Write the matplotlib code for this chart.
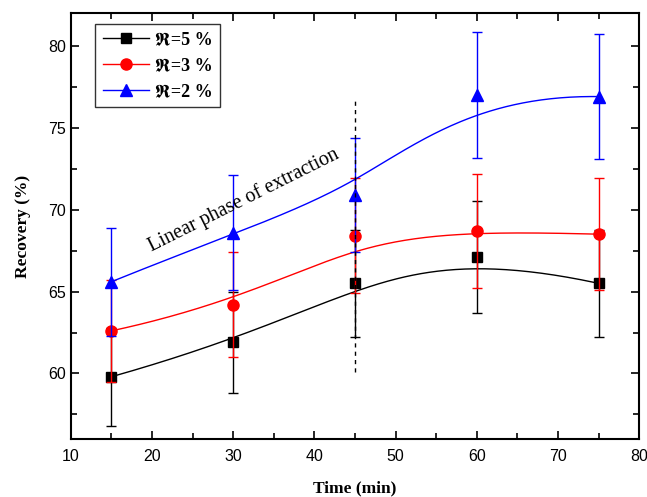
import numpy as np
import matplotlib
matplotlib.use("Agg")
import matplotlib.pyplot as plt
from matplotlib.ticker import MultipleLocator

# time points (min)
time = [15, 30, 45, 60, 75]

# recovery (%) and error for each R value
rec_5 = [59.8, 61.9, 65.5, 67.1, 65.5]
err_5 = [3.0, 3.1, 3.25, 3.4, 3.25]
rec_3 = [62.6, 64.2, 68.4, 68.7, 68.5]
err_3 = [3.1, 3.2, 3.5, 3.5, 3.4]
rec_2 = [65.6, 68.6, 70.9, 77.0, 76.9]
err_2 = [3.3, 3.5, 3.5, 3.85, 3.8]

labels = ["\u211c=5 %", "\u211c=3 %", "\u211c=2 %"]
colors = ["black", "red", "blue"]
markers = ["s", "o", "^"]
msizes = [7, 8, 8.5]


def basis(i, k, t, knots):
    # Cox-de Boor recursion
    if k == 0:
        if knots[i] <= t < knots[i + 1] or (t == knots[-1] and knots[i] < t <= knots[i + 1]):
            return 1.0
        return 0.0
    a = 0.0
    if knots[i + k] != knots[i]:
        a = (t - knots[i]) / (knots[i + k] - knots[i]) * basis(i, k - 1, t, knots)
    b = 0.0
    if knots[i + k + 1] != knots[i + 1]:
        b = (knots[i + k + 1] - t) / (knots[i + k + 1] - knots[i + 1]) * basis(i + 1, k - 1, t, knots)
    return a + b


def bspline(xs, ys, n=200):
    # clamped cubic B-spline, data points used as control points
    m = len(xs)
    inner = list(np.linspace(0, 1, m - 2))
    knots = [0, 0, 0] + inner + [1, 1, 1]
    ts = np.linspace(0, 1, n)
    cx, cy = [], []
    for t in ts:
        w = [basis(i, 3, t, knots) for i in range(m)]
        cx.append(np.dot(w, xs))
        cy.append(np.dot(w, ys))
    return cx, cy


fig = plt.figure(figsize=(6.47, 4.97), dpi=100)
ax = fig.add_axes([0.1095, 0.1167, 0.8785, 0.8571])

for ys, es, c, m, ms, lab in zip([rec_5, rec_3, rec_2], [err_5, err_3, err_2],
                                  colors, markers, msizes, labels):
    ax.errorbar(time, ys, yerr=es, fmt="none", ecolor=c, elinewidth=1,
                capsize=3.5, capthick=1)
    cx, cy = bspline(time, ys)
    ax.plot(cx, cy, color=c, lw=1)
    ax.plot(time, ys, linestyle="none", marker=m, color=c, ms=ms)
    ax.plot([], [], color=c, lw=1, marker=m, ms=ms, label=lab)

# boundary of linear phase
ax.plot([45, 45], [60.1, 76.9], color="black", lw=1, linestyle=(0, (3, 3)))
ax.text(31.3, 70.6, "Linear phase of extraction", rotation=26.5,
        ha="center", va="center", fontsize=14.5, family="Liberation Serif",
        style="normal")

ax.set_xlim(10, 80)
ax.set_ylim(56, 82)
ax.xaxis.set_major_locator(MultipleLocator(10))
ax.xaxis.set_minor_locator(MultipleLocator(5))
ax.yaxis.set_major_locator(MultipleLocator(5))
ax.yaxis.set_minor_locator(MultipleLocator(2.5))
ax.tick_params(which="both", direction="in", top=True, right=True, width=1.2)
ax.tick_params(which="major", length=6)
ax.tick_params(which="minor", length=4)
ax.tick_params(axis="x", pad=7)
for lab in ax.get_xticklabels() + ax.get_yticklabels():
    lab.set_family("Liberation Sans")
    lab.set_fontsize(11.5)
for sp in ax.spines.values():
    sp.set_linewidth(1.5)

ax.set_xlabel("Time (min)", family="Liberation Serif", fontweight="bold",
              fontsize=12.5, labelpad=12)
ax.set_ylabel("Recovery (%)", family="Liberation Serif", fontweight="bold",
              fontsize=12.5, labelpad=12)

leg = ax.legend(loc="upper left", bbox_to_anchor=(0.043, 0.975), frameon=True,
                fancybox=False, edgecolor="black", handlelength=2.6,
                borderpad=0.4, labelspacing=0.5, handletextpad=0.3,
                borderaxespad=0,
                prop={"family": ["Liberation Serif", "STIXGeneral", "DejaVu Sans"],
                      "weight": "bold", "size": 13})
leg.get_frame().set_linewidth(1)

fig.savefig("out.png", dpi=100)
